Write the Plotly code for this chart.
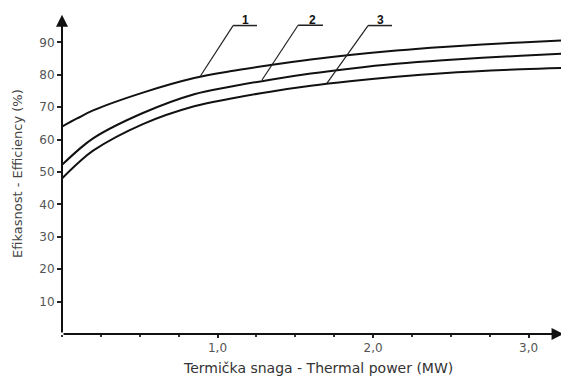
import plotly.graph_objects as go

# Data
power = [0, 0.1, 0.2, 0.52, 0.85, 1.08, 1.34, 1.6, 1.85, 2.15, 2.45, 2.95, 3.26]
curve_1 = [64.0, 66.6, 69.0, 74.5, 79.0, 81.1, 83.0, 84.7, 86.1, 87.5, 88.6, 90.0, 90.7]
curve_2 = [52.2, 56.6, 60.4, 68.2, 74.0, 76.3, 78.5, 80.4, 81.9, 83.4, 84.5, 85.9, 86.6]
curve_3 = [48.0, 52.6, 56.6, 64.8, 70.3, 72.6, 74.8, 76.6, 78.0, 79.4, 80.5, 81.7, 82.2]

x_tick_vals = [1, 2, 3]
x_tick_text = ["1,0", "2,0", "3,0"]
y_tick_vals = [10, 20, 30, 40, 50, 60, 70, 80, 90]

label_names = ["1", "2", "3"]
label_x = [1.183, 1.608, 2.045]
label_y = [97.0, 97.0, 97.0]
underline_x0 = [1.10, 1.518, 1.968]
underline_x1 = [1.254, 1.678, 2.122]
underline_y = [95.2, 95.3, 95.2]
leader_end_x = [0.887, 1.286, 1.704]
leader_end_y = [79.4, 78.4, 77.4]

FONT = "DejaVu Sans, Verdana, sans-serif"

fig = go.Figure()
for ys in (curve_1, curve_2, curve_3):
    fig.add_trace(go.Scatter(x=power, y=ys, mode="lines", line=dict(color="#111", width=2, shape="spline"),
                             showlegend=False, hoverinfo="skip"))

shapes = []
annotations = []
for i, name in enumerate(label_names):
    shapes.append(dict(type="line", xref="x", yref="y", x0=underline_x0[i], x1=underline_x1[i],
                       y0=underline_y[i], y1=underline_y[i], line=dict(color="#222", width=1.5)))
    shapes.append(dict(type="line", xref="x", yref="y", x0=underline_x0[i], x1=leader_end_x[i],
                       y0=underline_y[i], y1=leader_end_y[i], line=dict(color="#222", width=1.2)))
    annotations.append(dict(x=label_x[i], y=label_y[i], xref="x", yref="y", text="<b>%s</b>" % name,
                            showarrow=False, font=dict(family="Liberation Sans, Arial", size=12, color="#111")))

# axis arrows
annotations.append(dict(x=0, y=98.5, ax=0, ay=0, xref="x", yref="y", axref="x", ayref="y", text="",
                        showarrow=True, arrowhead=2, arrowsize=1.2, arrowwidth=2, arrowcolor="#111"))
annotations.append(dict(x=3.225, y=0, ax=0, ay=0, xref="x", yref="y", axref="x", ayref="y", text="",
                        showarrow=True, arrowhead=2, arrowsize=1.2, arrowwidth=2, arrowcolor="#111"))

# axis titles (positions in page pixels)
annotations.append(dict(x=318, y=368, xref="paper", yref="paper", text="Termička snaga - Thermal power (MW)",
                        xanchor="center", yanchor="middle",
                        showarrow=False, font=dict(family=FONT, size=14, color="#333")))
annotations.append(dict(x=17, y=174, xref="paper", yref="paper", text="Efikasnost - Efficiency (%)",
                        xanchor="center", yanchor="middle",
                        textangle=-90, showarrow=False, font=dict(family=FONT, size=13, color="#444")))

# figure occupies page pixels 8..569 x 8..380
OFF = 8
W, H = 569 - OFF, 380 - OFF
L, R, T, B = 62 - OFF, 0, 10 - OFF, 46
pw, ph = W - L - R, H - T - B
for a in annotations[-2:]:
    a["x"] = (a["x"] - OFF - L) / pw
    a["y"] = (H - B - (a["y"] - OFF)) / ph

fig.update_layout(
    width=W, height=H,
    margin=dict(l=L, r=R, t=T, b=B),
    paper_bgcolor="white", plot_bgcolor="white",
    font=dict(family=FONT, size=12, color="#444"),
    shapes=shapes, annotations=annotations,
    xaxis=dict(range=[0, 3.26], showgrid=False, zeroline=False, showline=False, automargin=False,
               tickvals=x_tick_vals, ticktext=x_tick_text, ticks="outside", ticklen=3,
               tickcolor="#222", tickwidth=1.5, ticklabelstandoff=0,
               minor=dict(dtick=0.25, tick0=0, ticks="outside", ticklen=2, tickcolor="#333"),
               tickfont=dict(family=FONT, size=12, color="#555")),
    yaxis=dict(range=[0, 100], showgrid=False, zeroline=False, showline=False, automargin=False,
               tickvals=y_tick_vals, ticks="outside", ticklen=4, tickcolor="#222", tickwidth=1.5,
               tickfont=dict(family=FONT, size=12, color="#555")),
)

fig.write_html("out.html")
